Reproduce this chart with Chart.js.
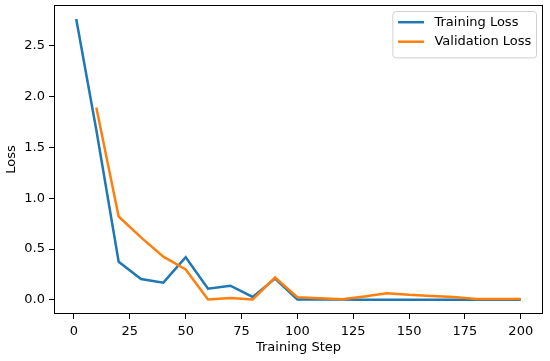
<!DOCTYPE html>
<html>
<head>
<meta charset="utf-8">
<script src="https://cdn.jsdelivr.net/npm/chart.js@4/dist/chart.umd.min.js"></script>
<style>
  html, body { margin: 0; padding: 0; background: #fff; }
  #wrap { width: 550px; height: 361px; }
</style>
</head>
<body>
<div id="wrap"><canvas id="lossChart"></canvas></div>
<script>
// values
const trainSteps = [1, 10, 20, 30, 40, 50, 60, 70, 80, 90, 100, 110, 120, 130, 140, 150, 160, 170, 180, 190, 200];
const trainLoss = [2.76, 1.67, 0.375, 0.205, 0.17, 0.42, 0.11, 0.14, 0.03, 0.21, 0.005, 0.004, 0.004, 0.003, 0.003, 0.003, 0.003, 0.002, 0.002, 0.002, 0.002];
const valSteps = [10, 20, 30, 40, 50, 60, 70, 80, 90, 100, 110, 120, 130, 140, 150, 160, 170, 180, 190, 200];
const valLoss = [1.89, 0.82, 0.615, 0.425, 0.30, 0.005, 0.02, 0.005, 0.22, 0.026, 0.017, 0.007, 0.035, 0.065, 0.05, 0.04, 0.028, 0.01, 0.01, 0.01];
const xTicks = [0, 25, 50, 75, 100, 125, 150, 175, 200];
const yTicks = [0, 0.5, 1.0, 1.5, 2.0, 2.5];

const FONT = 'DejaVu Sans';

function toPoints(xs, ys) {
  return xs.map((x, i) => ({ x: x, y: ys[i] }));
}

// box round the plot + legend in the upper right, matplotlib style
const frameAndLegend = {
  id: 'frameAndLegend',
  afterDraw(chart) {
    const { ctx, chartArea: { left, right, top, bottom } } = chart;
    ctx.save();
    ctx.strokeStyle = '#000';
    ctx.lineWidth = 1;
    ctx.strokeRect(left + 0.5, top + 0.5, right - left - 1, bottom - top - 1);

    ctx.font = '13px "' + FONT + '"';
    const sets = chart.data.datasets;
    let textW = 0;
    sets.forEach(ds => { textW = Math.max(textW, ctx.measureText(ds.label).width); });
    const pad = 5.2, handle = 26, gap = 10.4, rowH = 19.5;
    const boxW = pad + handle + gap + textW + pad;
    const boxH = pad * 2 + rowH * sets.length - 3;
    const bx = right - 6.5 - boxW;
    const by = top + 6.5;

    ctx.fillStyle = 'rgba(255,255,255,0.8)';
    ctx.strokeStyle = '#d0d0d0';
    ctx.beginPath();
    ctx.roundRect(bx, by, boxW, boxH, 3);
    ctx.fill();
    ctx.stroke();

    ctx.textBaseline = 'middle';
    ctx.textAlign = 'left';
    sets.forEach((ds, i) => {
      const cy = by + pad + 5.5 + i * rowH;
      ctx.strokeStyle = ds.borderColor;
      ctx.lineWidth = 2.5;
      ctx.beginPath();
      ctx.moveTo(bx + pad, cy);
      ctx.lineTo(bx + pad + handle, cy);
      ctx.stroke();
      ctx.fillStyle = '#000';
      ctx.fillText(ds.label, bx + pad + handle + gap, cy);
    });
    ctx.restore();
  }
};

new Chart(document.getElementById('lossChart'), {
  type: 'line',
  data: {
    datasets: [{
      label: 'Training Loss',
      data: toPoints(trainSteps, trainLoss),
      borderColor: '#1f77b4',
      backgroundColor: '#1f77b4',
      borderWidth: 2.5,
      pointRadius: 0,
      tension: 0,
      order: 1
    }, {
      label: 'Validation Loss',
      data: toPoints(valSteps, valLoss),
      borderColor: '#ff7f0e',
      backgroundColor: '#ff7f0e',
      borderWidth: 2.5,
      pointRadius: 0,
      tension: 0,
      order: 0
    }]
  },
  options: {
    responsive: true,
    maintainAspectRatio: false,
    animation: false,
    devicePixelRatio: 1,
    layout: { padding: { top: 5, right: 7, left: 0, bottom: 0 } },
    plugins: {
      legend: { display: false },
      tooltip: { enabled: false }
    },
    scales: {
      x: {
        type: 'linear',
        min: -8.95,
        max: 209.95,
        afterBuildTicks: scale => { scale.ticks = xTicks.map(v => ({ value: v })); },
        afterFit: scale => { scale.height = 47; scale.paddingLeft = 0; scale.paddingRight = 0; },
        border: { display: false },
        grid: { drawOnChartArea: false, drawTicks: true, tickLength: 5, color: '#000', tickWidth: 1 },
        ticks: { color: '#000', padding: 5, maxRotation: 0, font: { family: FONT, size: 13 } },
        title: { display: true, text: 'Training Step', color: '#000', font: { family: FONT, size: 13 }, padding: { top: 2, bottom: 6 } }
      },
      y: {
        type: 'linear',
        min: -0.138,
        max: 2.898,
        afterBuildTicks: scale => { scale.ticks = yTicks.map(v => ({ value: v })); },
        afterFit: scale => { scale.width = 54; scale.paddingTop = 0; scale.paddingBottom = 0; },
        border: { display: false },
        grid: { drawOnChartArea: false, drawTicks: true, tickLength: 5, color: '#000', tickWidth: 1 },
        ticks: { color: '#000', padding: 4, font: { family: FONT, size: 13 }, callback: v => v.toFixed(1) },
        title: { display: true, text: 'Loss', color: '#000', font: { family: FONT, size: 13 }, padding: { top: 4, bottom: 4 } }
      }
    }
  },
  plugins: [frameAndLegend]
});
</script>
</body>
</html>
